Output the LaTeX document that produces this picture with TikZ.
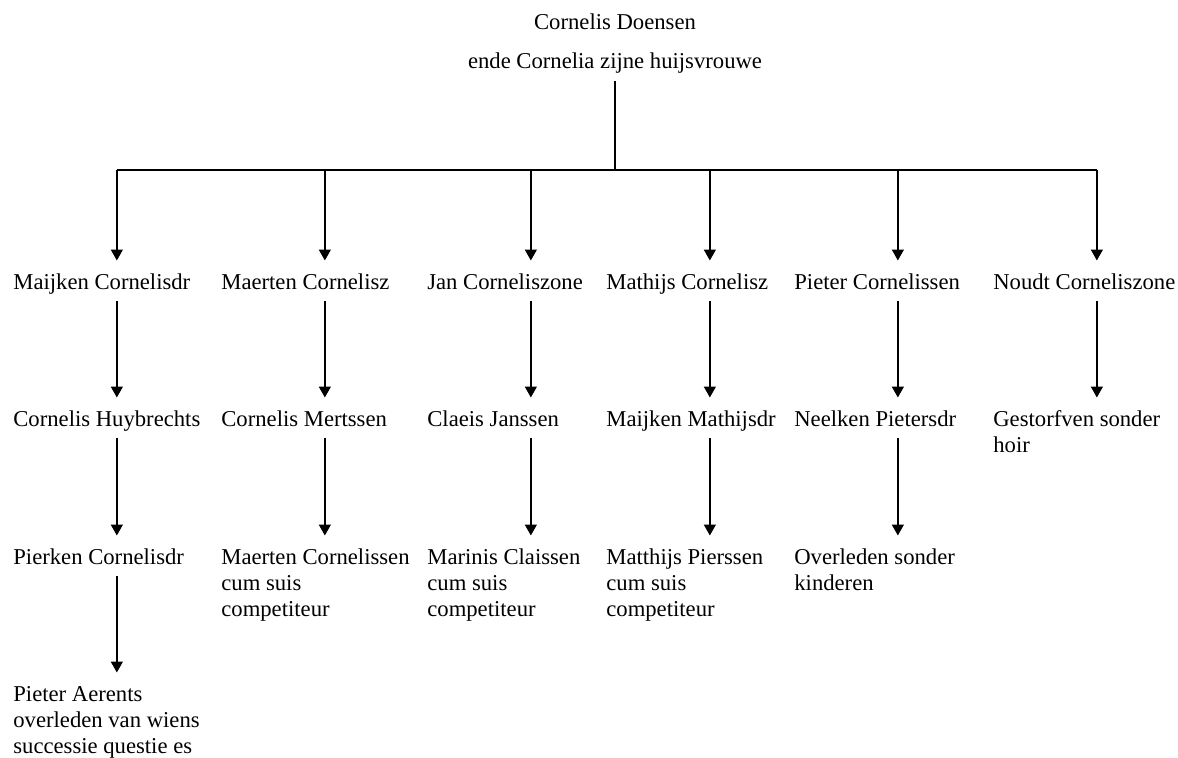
\documentclass[tikz,border=0pt]{standalone}
\usepackage{fontspec}
\setmainfont{Liberation Serif}
\usetikzlibrary{arrows.meta,calc}

\begin{document}
\begin{tikzpicture}[
        person/.style={anchor=north west, text width=4.14cm, align=flush left,
          inner xsep=0pt, inner ysep=0pt,
          font=\fontsize{12.9}{14.7}\selectfont,
          execute at begin node=\strut, execute at end node=\strut},
        title/.style={anchor=north, inner sep=0pt,
          font=\fontsize{12.9}{14.7}\selectfont,
          execute at begin node=\strut},
        link/.style={draw, line width=0.8pt},
        descent/.style={link, -{Triangle[length=6.2pt,width=6.8pt]},
          shorten <=1.7pt, shorten >=6pt}
      ]
      \useasboundingbox (0,0) rectangle (23.56,-15.14);

      % Parents
      \node[title] (head) at (12.30,-0.22) {Cornelis Doensen};
      \node[title] (wife) at (12.30,-1.00) {ende Cornelia zijne huijsvrouwe};
      \coordinate (fork) at (12.30,-3.40);

      % Children
      \node[person] (c1) at (0.26,-5.42) {Maijken Cornelisdr};
      \node[person] (c2) at (4.42,-5.42) {Maerten Cornelisz};
      \node[person] (c3) at (8.54,-5.42) {Jan Corneliszone};
      \node[person] (c4) at (12.12,-5.42) {Mathijs Cornelisz};
      \node[person] (c5) at (15.88,-5.42) {Pieter Cornelissen};
      \node[person] (c6) at (19.86,-5.42) {Noudt Corneliszone};

      % Grandchildren
      \node[person] (g1) at (0.26,-8.16) {Cornelis Huybrechts};
      \node[person] (g2) at (4.42,-8.16) {Cornelis Mertssen};
      \node[person] (g3) at (8.54,-8.16) {Claeis Janssen};
      \node[person] (g4) at (12.12,-8.16) {Maijken Mathijsdr};
      \node[person] (g5) at (15.88,-8.16) {Neelken Pietersdr};
      \node[person] (g6) at (19.86,-8.16) {Gestorfven sonder\\hoir};

      % Great-grandchildren
      \node[person] (h1) at (0.26,-10.92) {Pierken Cornelisdr};
      \node[person] (h2) at (4.42,-10.92) {Maerten Cornelissen\\cum suis\\competiteur};
      \node[person] (h3) at (8.54,-10.92) {Marinis Claissen\\cum suis\\competiteur};
      \node[person] (h4) at (12.12,-10.92) {Matthijs Pierssen\\cum suis\\competiteur};
      \node[person] (h5) at (15.88,-10.92) {Overleden sonder\\kinderen};

      \node[person] (k1) at (0.26,-13.66) {Pieter Aerents\\overleden van wiens\\successie questie es};

      % Trunk and bar
      \draw[line width=1.5pt, shorten <=2.4pt] (wife.south) -- (fork);
      \draw[link] (c1.north |- fork) -- (c6.north |- fork);

      % Edges
      \draw[descent, shorten <=0pt] (c1.north |- fork) -- (c1.north);
      \draw[descent, shorten <=0pt] (c2.north |- fork) -- (c2.north);
      \draw[descent, shorten <=0pt] (c3.north |- fork) -- (c3.north);
      \draw[descent, shorten <=0pt] (c4.north |- fork) -- (c4.north);
      \draw[descent, shorten <=0pt] (c5.north |- fork) -- (c5.north);
      \draw[descent, shorten <=0pt] (c6.north |- fork) -- (c6.north);

      \draw[descent] (c1.south) -- (g1.north);
      \draw[descent] (c2.south) -- (g2.north);
      \draw[descent] (c3.south) -- (g3.north);
      \draw[descent] (c4.south) -- (g4.north);
      \draw[descent] (c5.south) -- (g5.north);
      \draw[descent] (c6.south) -- (g6.north);

      \draw[descent] (g1.south) -- (h1.north);
      \draw[descent] (g2.south) -- (h2.north);
      \draw[descent] (g3.south) -- (h3.north);
      \draw[descent] (g4.south) -- (h4.north);
      \draw[descent] (g5.south) -- (h5.north);

      \draw[descent] (h1.south) -- (k1.north);
    \end{tikzpicture}
\end{document}
